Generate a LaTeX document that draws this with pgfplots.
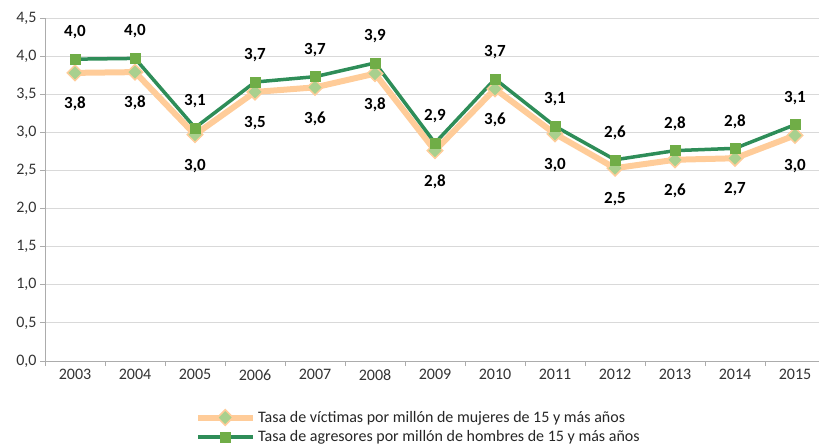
\documentclass[border=0pt]{standalone}
\usepackage{pgfplots}
\pgfplotsset{compat=1.18}
\usepackage{fontspec}
\setmainfont{Carlito}
\definecolor{orl}{RGB}{255,204,153}
\definecolor{dia}{RGB}{169,208,142}
\definecolor{gln}{RGB}{46,141,88}
\definecolor{sqr}{RGB}{112,173,71}
\pgfplotstableread{
x y
0 3.78
1 3.79
2 2.97
3 3.53
4 3.59
5 3.77
6 2.76
7 3.57
8 2.98
9 2.53
10 2.64
11 2.66
12 2.96
}\victimas
\pgfplotstableread{
x y
0 3.96
1 3.97
2 3.06
3 3.66
4 3.73
5 3.91
6 2.86
7 3.70
8 3.08
9 2.64
10 2.76
11 2.79
12 3.10
}\agresores
\begin{document}
\begin{tikzpicture}
\path[use as bounding box] (-45pt,-84pt) rectangle (774pt,361pt);
\begin{axis}[
  at={(0pt,0pt)}, anchor=south west,
  scale only axis, width=780pt, height=343pt,
  xmin=-0.5, xmax=12.5, ymin=0, ymax=4.5,
  ytick={0,0.5,...,4.5},
  y tick label style={/pgf/number format/fixed, /pgf/number format/fixed zerofill, /pgf/number format/precision=1, /pgf/number format/use comma},
  xtick={-0.5,0.5,...,12.5},
  x tick label as interval,
  xticklabels={2003,2004,2005,2006,2007,2008,2009,2010,2011,2012,2013,2014,2015},
  ymajorgrids,
  grid style={draw=gray!30, line width=0.8pt},
  axis x line*=bottom, axis y line*=left,
  axis line style={draw=gray!65, line width=0.8pt, -},
  tick align=outside,
  tick style={draw=gray!65, line width=0.8pt},
  major tick length=5pt,
  tick label style={font=\fontsize{16}{18}\selectfont, text=black!80},
  /pgf/number format/assume math mode=true,
  clip=false,
  legend style={at={(axis description cs:0.1923,-0.14)}, anchor=north west,
    draw=none, fill=none, font=\fontsize{16}{18}\selectfont, text=black!85,
    row sep=3pt, inner sep=0pt},
  legend cell align=left,
  legend image code/.code={\draw[mark repeat=2,mark phase=2,#1] plot coordinates {(0pt,0pt) (27pt,0pt) (55pt,0pt)};},
  nodes near coords={\pgfmathprintnumber[fixed, fixed zerofill, precision=1, use comma, assume math mode=true]{\pgfplotspointmeta}},
  every node near coord/.append style={font=\bfseries\fontsize{17}{19}\selectfont, text=black, anchor=center},
]
\addplot[orl, line width=6pt, mark=square*, mark size=5.5pt,
  mark options={rotate=45, fill=dia, draw=orl, line width=1.5pt},
  every node near coord/.append style={yshift=-31pt}]
  table[x=x,y=y] {\victimas};
\addlegendentry{Tasa de víctimas por millón de mujeres de 15 y más años}
\addplot[gln, line width=3.5pt, mark=square*, mark size=5pt,
  mark options={fill=sqr, draw=sqr, line width=0.5pt},
  every node near coord/.append style={yshift=27pt}]
  table[x=x,y=y] {\agresores};
\addlegendentry{Tasa de agresores por millón de hombres de 15 y más años}
\end{axis}
\end{tikzpicture}
\end{document}
